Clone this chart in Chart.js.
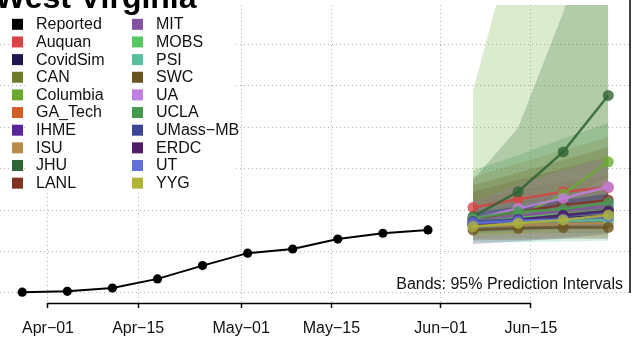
<!DOCTYPE html>
<html>
<head>
<meta charset="utf-8">
<script src="https://cdn.jsdelivr.net/npm/chart.js@4.4.1/dist/chart.umd.min.js"></script>
<style>
  html, body { margin: 0; padding: 0; background: #fff; }
  #wrap { position: relative; width: 631px; height: 339px; overflow: hidden; }
</style>
</head>
<body>
<div id="wrap"><canvas id="chart" width="631" height="339"></canvas></div>
<script>
// Datos (muertes acumuladas, West Virginia)
const reportedDates = ['2020-03-28', '2020-04-04', '2020-04-11', '2020-04-18', '2020-04-25',
                       '2020-05-02', '2020-05-09', '2020-05-16', '2020-05-23', '2020-05-30'];
const reportedDeaths = [1, 2, 6, 17, 33, 48, 53, 65, 72, 76];

const forecastDates = ['2020-06-06', '2020-06-13', '2020-06-20', '2020-06-27'];

const models = ['Auquan', 'CovidSim', 'CAN', 'Columbia', 'GA_Tech', 'IHME', 'ISU', 'JHU', 'LANL',
                'MIT', 'MOBS', 'PSI', 'SWC', 'UA', 'UCLA', 'UMass\u2212MB', 'ERDC', 'UT', 'YYG'];
const modelColors = ['#d64545', '#1f1650', '#6f7b2b', '#6aaa2f', '#d45d26', '#5a24a0', '#b88b4a',
                     '#2f6434', '#7e3320', '#8452a0', '#55c864', '#55bf9e', '#6b5420', '#c080e0',
                     '#469a4e', '#3c4496', '#4e1f64', '#6070dc', '#b0b434'];

const forecastMid = [
    [103, 113, 122, 127], [82, 86, 90, 93], [85, 87, 88, 89], [88, 92, 119, 158],
    [84, 89, 95, 100], [83, 88, 94, 101], [81, 82, 83, 84], [92, 122, 170, 238],
    [89, 98, 106, 112], [87, 93, 99, 105], [86, 90, 95, 100], [83, 86, 87, 88],
    [76, 78, 79, 79], [89, 102, 114, 128], [90, 98, 101, 109], [86, 89, 93, 98],
    [82, 88, 94, 99], [84, 87, 89, 92], [80, 84, 88, 94]
];
const forecastLo = [
    [92, 98, 104, 108], [59, 62, 66, 71], [72, 72, 72, 72], [70, 72, 78, 85],
    [76, 78, 80, 82], [76, 78, 80, 82], [66, 66, 67, 67], [78, 92, 112, 140],
    [80, 84, 88, 90], [78, 80, 83, 86], [77, 78, 80, 82], [62, 61, 62, 63],
    [64, 64, 65, 65], [78, 84, 90, 96], [72, 76, 80, 84], [74, 76, 78, 80],
    [74, 76, 78, 80], [72, 74, 75, 76], [70, 72, 74, 76]
];
const forecastHi = [
    [112, 124, 134, 142], [104, 110, 117, 124], [100, 106, 112, 118], [244, 445, 650, 850],
    [94, 102, 112, 120], [92, 100, 110, 120], [140, 156, 172, 188], [136, 199, 338, 520],
    [122, 136, 150, 164], [100, 110, 122, 132], [96, 104, 112, 122], [102, 108, 114, 120],
    [130, 145, 160, 176], [110, 130, 148, 164], [148, 166, 186, 205], [98, 104, 112, 120],
    [96, 104, 112, 120], [96, 102, 108, 114], [92, 98, 106, 114]
];

const tickDates = ['2020-04-01', '2020-04-15', '2020-05-01', '2020-05-15', '2020-06-01', '2020-06-15'];
const tickLabels = ['Apr\u221201', 'Apr\u221215', 'May\u221201', 'May\u221215', 'Jun\u221201', 'Jun\u221215'];
const yTicks = [0, 50, 100, 150, 200, 250, 300];

const FONT = "'Liberation Sans', Arial, Helvetica, sans-serif";
const GRID = '#b5b5b5';

function day(s) {
    return (Date.parse(s) - Date.parse('2020-04-01')) / 86400000;
}

function hexA(hex, a) {
    const n = parseInt(hex.slice(1), 16);
    return `rgba(${(n >> 16) & 255},${(n >> 8) & 255},${n & 255},${a})`;
}

function series(dates, vals) {
    return dates.map((d, k) => ({ x: day(d), y: vals[k] }));
}

// Datasets: reportado, bandas, líneas de pronóstico
const datasets = [{
    label: 'Reported',
    data: series(reportedDates, reportedDeaths),
    borderColor: '#000',
    borderWidth: 2,
    pointRadius: 4.6,
    pointBackgroundColor: '#000',
    pointBorderWidth: 0,
    fill: false,
    order: 0
}];

models.forEach((m, i) => {
    const lo = datasets.length;
    datasets.push({
        label: m + ' lo',
        data: series(forecastDates, forecastLo[i]),
        borderWidth: 0, pointRadius: 0, fill: false,
        order: 300 - i
    });
    datasets.push({
        label: m + ' hi',
        data: series(forecastDates, forecastHi[i]),
        borderWidth: 0, pointRadius: 0,
        fill: { target: lo },
        backgroundColor: hexA(modelColors[i], 0.24),
        order: 300 - i
    });
});

models.forEach((m, i) => {
    datasets.push({
        label: m,
        data: series(forecastDates, forecastMid[i]),
        borderColor: hexA(modelColors[i], 0.85),
        borderWidth: 2.5,
        pointRadius: 5.5,
        pointBackgroundColor: hexA(modelColors[i], 0.8),
        pointBorderWidth: 0,
        fill: false,
        order: 100 - i
    });
});

const decor = {
    id: 'decor',
    afterDraw(chart) {
        const ctx = chart.ctx;
        const xs = chart.scales.x, ys = chart.scales.y;
        const area = chart.chartArea;
        ctx.save();

        // eje x (solo entre primer y último tick)
        ctx.strokeStyle = '#000';
        ctx.lineWidth = 1.5;
        ctx.beginPath();
        ctx.moveTo(xs.getPixelForValue(day(tickDates[0])), area.bottom + 0.5);
        ctx.lineTo(xs.getPixelForValue(day(tickDates[tickDates.length - 1])), area.bottom + 0.5);
        ctx.stroke();

        // línea vertical a la derecha
        ctx.lineWidth = 1.5;
        ctx.beginPath();
        ctx.moveTo(630, ys.getPixelForValue(0));
        ctx.lineTo(630, 0);
        ctx.stroke();

        // leyenda
        ctx.fillStyle = '#fff';
        ctx.fillRect(26, 12, 210, 181);
        const names = ['Reported'].concat(models);
        const cols = ['#000000'].concat(modelColors);
        ctx.font = '16px ' + FONT;
        ctx.textBaseline = 'middle';
        ctx.textAlign = 'left';
        names.forEach((n, i) => {
            const col = Math.floor(i / 10), row = i % 10;
            const x = col === 0 ? 12 : 132;
            const y = 24.3 + row * 17.65;
            ctx.fillStyle = cols[i];
            ctx.fillRect(x, y - 5.5, 11, 11);
            ctx.fillStyle = '#111';
            ctx.fillText(n, x + 24, y + 0.5);
        });

        // título
        ctx.font = 'bold 32px ' + FONT;
        ctx.textBaseline = 'alphabetic';
        ctx.fillStyle = '#000';
        ctx.fillText('West Virginia', -5, 8);

        // nota de bandas
        ctx.font = '16px ' + FONT;
        ctx.textAlign = 'right';
        ctx.textBaseline = 'middle';
        ctx.fillStyle = '#111';
        ctx.fillText('Bands: 95% Prediction Intervals', 623, 285);
        ctx.restore();
    }
};

new Chart(document.getElementById('chart'), {
    type: 'line',
    data: { datasets: datasets },
    options: {
        responsive: false,
        animation: false,
        layout: { autoPadding: false, padding: { top: 5, bottom: 0, left: 0, right: 0 } },
        plugins: { legend: { display: false }, tooltip: { enabled: false } },
        elements: { line: { tension: 0 } },
        scales: {
            x: {
                type: 'linear',
                min: -7.453,
                max: 90.53,
                afterBuildTicks: s => { s.ticks = tickDates.map(d => ({ value: day(d) })); },
                afterFit: s => { s.height = 36; },
                ticks: {
                    callback: (v, i) => tickLabels[i],
                    font: { family: FONT, size: 16 },
                    color: '#111',
                    maxRotation: 0,
                    autoSkip: false,
                    padding: 11
                },
                grid: { color: GRID, lineWidth: 1, drawTicks: true, tickLength: 5, tickColor: '#000', tickWidth: 1.5 },
                border: { display: false, dash: [1, 3] }
            },
            y: {
                min: -12.05,
                max: 347,
                afterBuildTicks: s => { s.ticks = yTicks.map(v => ({ value: v })); },
                afterFit: s => { s.width = 0; },
                ticks: { display: false },
                grid: { color: GRID, lineWidth: 1, drawTicks: false },
                border: { display: false, dash: [1, 3] }
            }
        }
    },
    plugins: [decor]
});
</script>
</body>
</html>
